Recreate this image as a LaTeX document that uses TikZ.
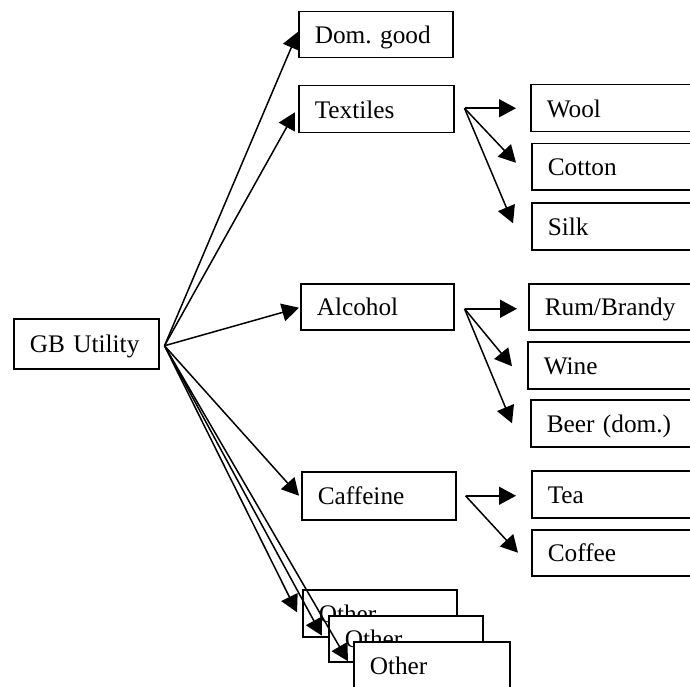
\documentclass[tikz,border=0pt]{standalone}
\usepackage{fontspec}
\setmainfont{Liberation Serif}
\usetikzlibrary{arrows.meta}
\frenchspacing
\tikzset{
  box/.style={draw, fill=white, line width=1.5pt, rectangle, anchor=north west,
    inner xsep=16pt, inner ysep=0pt, align=left, text height=18pt, text depth=0pt,
    font=\fontsize{25.3}{30}\selectfont\frenchspacing},
  arr/.style={line width=1.5pt, -{Triangle[length=17pt,width=18pt]}}
}
\begin{document}
\begin{tikzpicture}[x=1pt,y=-1pt]
\useasboundingbox (0,0) rectangle (690,687);
\clip (0,0) rectangle (690,687);
% first level
\node[box, minimum width=145, minimum height=50, text width=113] (gb) at (13,318) {GB Utility};
\node[box, minimum width=154, minimum height=46, text width=122] (dom) at (298,11) {Dom. good};
\node[box, minimum width=155, minimum height=47, text width=123] (tex) at (298,85) {Textiles};
\node[box, minimum width=153, minimum height=46, text width=121] (alc) at (300,283) {Alcohol};
\node[box, minimum width=154, minimum height=48, text width=122] (caf) at (301,471) {Caffeine};
\node[box, minimum width=154, minimum height=47, text width=122] (o1) at (302,589) {Other};
\node[box, minimum width=154, minimum height=46, text width=122] (o2) at (328,615) {Other};
\node[box, minimum width=156, minimum height=47, text width=124] (o3) at (353,641) {Other};
% second level
\node[box, minimum width=170, minimum height=47, text width=138] (wool) at (530,84) {Wool};
\node[box, minimum width=170, minimum height=46, text width=138] (cot) at (531,143) {Cotton};
\node[box, minimum width=170, minimum height=47, text width=138] (silk) at (531,202) {Silk};
\node[box, minimum width=170, minimum height=46, text width=138] (rum) at (528,283) {Rum/Brandy};
\node[box, minimum width=170, minimum height=47, text width=138] (wine) at (527,341) {Wine};
\node[box, minimum width=170, minimum height=47, text width=138] (beer) at (530,399) {Beer (dom.)};
\node[box, minimum width=170, minimum height=47, text width=138] (tea) at (531,470) {Tea};
\node[box, minimum width=170, minimum height=46, text width=138] (cof) at (531,529) {Coffee};
% sources
\coordinate (gs) at ([xshift=5pt,yshift=-2pt]gb.east);
\coordinate (ts) at ([xshift=10pt,yshift=1pt]tex.east);
\coordinate (as) at ([xshift=10pt,yshift=-2pt]alc.east);
\coordinate (cs) at ([xshift=9pt]caf.east);
% tips
\coordinate (wt) at ([xshift=-14pt]wool.west);
\coordinate (ct) at ([xshift=-15pt,yshift=4pt]cot.west);
\coordinate (st) at ([xshift=-18pt,yshift=3pt]silk.west);
\coordinate (rt) at ([xshift=-11pt]rum.west);
\coordinate (wnt) at ([xshift=-15pt,yshift=-1pt]wine.west);
\coordinate (bt) at ([xshift=-18pt]beer.west);
\coordinate (tt) at ([xshift=-15pt]tea.west);
\coordinate (cft) at ([xshift=-13pt]cof.west);
% first level arrows
\draw[arr] (gs) -- ([yshift=3pt]dom.west);
\draw[arr] (gs) -- ([xshift=-3pt,yshift=-3pt]tex.west);
\draw[arr] (gs) -- ([xshift=-1pt,yshift=-1pt]alc.west);
\draw[arr] (gs) -- ([xshift=-2pt]caf.west);
\draw[arr] (gs) -- ([xshift=-5pt,yshift=1pt]o1.west);
\draw[arr] (gs) -- ([xshift=-6pt,yshift=3pt]o2.west);
\draw[arr] (gs) -- ([xshift=-5pt,yshift=4pt]o3.west);
% second level arrows
\draw[arr] (ts) -- (ts -| wt);
\draw[arr] (ts) -- (ct);
\draw[arr] (ts) -- (st);
\draw[arr] (as) -- (as -| rt);
\draw[arr] (as) -- (wnt);
\draw[arr] (as) -- (bt);
\draw[arr] (cs) -- (cs -| tt);
\draw[arr] (cs) -- (cft);
\end{tikzpicture}
\end{document}
